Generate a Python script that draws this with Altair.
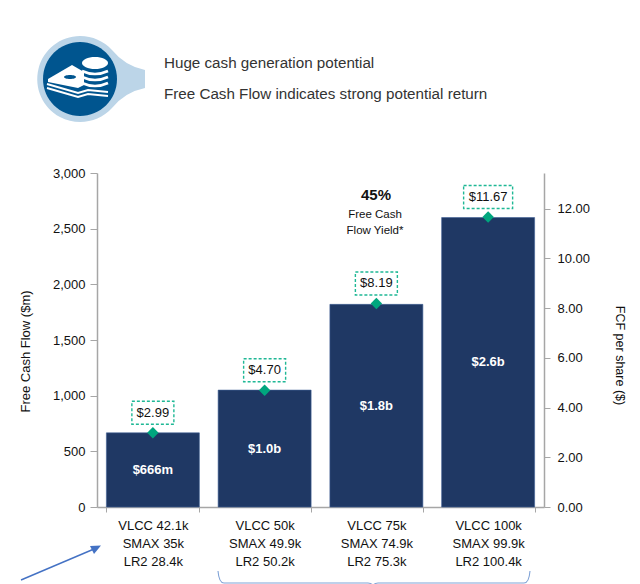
import altair as alt
import pandas as pd

FONT = "Liberation Sans"
categories = ["VLCC 42.1k|SMAX 35k|LR2 28.4k", "VLCC 50k|SMAX 49.9k|LR2 50.2k",
              "VLCC 75k|SMAX 74.9k|LR2 75.3k", "VLCC 100k|SMAX 99.9k|LR2 100.4k"]
fcf = [666, 1050, 1820, 2600]
per_share = [2.99, 4.70, 8.19, 11.67]
bar_labels = ["$666m", "$1.0b", "$1.8b", "$2.6b"]
share_labels = ["$2.99", "$4.70", "$8.19", "$11.67"]
box_wide = [False, False, False, True]
left_ticks = [0, 500, 1000, 1500, 2000, 2500, 3000]
right_ticks = [0, 2, 4, 6, 8, 10, 12]

df = pd.DataFrame({"cat": categories, "fcf": fcf, "mid": [v / 2 for v in fcf], "share": per_share,
                   "bar_label": bar_labels, "share_label": share_labels, "wide": box_wide})

W, H = 447, 334
GREY = "#a6a6a6"
TEAL = "#1fb895"
left_y = alt.Scale(domain=[0, 3000], nice=False)
right_y = alt.Scale(domain=[0, 13.44], nice=False)
x_enc = alt.X("cat:N", sort=categories, title=None,
              scale=alt.Scale(paddingInner=0.168, paddingOuter=0.084),
              axis=alt.Axis(labelExpr="split(datum.label,'|')", labelAngle=0, labelFont=FONT, labelFontSize=13,
                            labelColor="#111111", labelLineHeight=18, labelPadding=7, labelBaseline="top",
                            tickBand="extent", tickSize=5, tickColor=GREY, domainColor=GREY, domainWidth=1.5, grid=False))
base = alt.Chart(df).encode(x=x_enc)

bars = base.mark_bar(color="#1f3864", stroke="#3f5f95", strokeWidth=0.6).encode(
    y=alt.Y("fcf:Q", scale=left_y, axis=alt.Axis(
        values=left_ticks, format=",.0f", grid=False, tickSize=7, tickColor=GREY, domainColor=GREY, domainWidth=1.5,
        labelFont=FONT, labelFontSize=13, labelColor="#111111", labelPadding=5,
        title="Free Cash Flow ($m)", titleFont=FONT, titleFontSize=13, titleFontWeight="normal", titleColor="#111111",
        titleX=-65, titleY=178)))
bar_text = base.mark_text(color="white", font=FONT, fontSize=13, fontWeight="bold").encode(
    y=alt.Y("mid:Q", scale=left_y, axis=None), text="bar_label:N")
diamonds = base.mark_point(shape="diamond", filled=True, size=130, color="#00a67e", opacity=1).encode(
    y=alt.Y("share:Q", scale=right_y, axis=alt.Axis(
        orient="right", values=right_ticks, format=".2f", grid=False, tickSize=6, tickColor=GREY, domainColor=GREY,
        domainWidth=1.5, labelFont=FONT, labelFontSize=13, labelColor="#111111", labelPadding=7,
        title="FCF per share ($)", titleFont=FONT, titleFontSize=12.5, titleFontWeight="normal", titleColor="#111111",
        titleX=68, titleY=182)))
box_style = dict(height=23, yOffset=-20, fill="white", stroke=TEAL, strokeDash=[3, 2], strokeWidth=1.4)
box_narrow = base.transform_filter("!datum.wide").mark_rect(width=42, **box_style).encode(
    y=alt.Y("share:Q", scale=right_y, axis=None))
box_big = base.transform_filter("datum.wide").mark_rect(width=49, **box_style).encode(
    y=alt.Y("share:Q", scale=right_y, axis=None))
box_text = base.mark_text(font=FONT, fontSize=13, color="#111111", yOffset=-20).encode(
    y=alt.Y("share:Q", scale=right_y, axis=None), text="share_label:N")


def note(text, px, py, size=14, weight="normal", color="#111111"):
    return alt.Chart(pd.DataFrame({"t": [text]})).mark_text(
        font=FONT, fontSize=size, fontWeight=weight, color=color, align="center").encode(
        x=alt.value(px - 97), y=alt.value(py - 173), text="t:N")


def header(text, py):
    return alt.Chart(pd.DataFrame({"t": [text]})).mark_text(
        font=FONT, fontSize=15.2, color="#333333", align="left").encode(
        x=alt.value(164 - 97), y=alt.value(py - 173), text="t:N")


def shape(path, fill=None, stroke=None, sw=1.0):
    """Custom symbol, with its path written in page pixels; size 4 means a scale of one."""
    kw = dict(shape=path, size=4, opacity=1)
    if fill:
        kw.update(filled=True, fill=fill, stroke=stroke or fill, strokeWidth=sw if stroke else 0)
    else:
        kw.update(filled=False, stroke=stroke, strokeWidth=sw, fill="transparent")
    return alt.Chart(pd.DataFrame({"a": [0]})).mark_point(**kw).encode(x=alt.value(-97), y=alt.value(-173))


icon = [
    shape("M80 36 A43 43 0 0 1 112 50 Q125 66 145 70 L145 88 Q125 92 112 108 A43 43 0 1 1 80 36 Z", fill="#bcd5e8"),
    shape("M80 42 A37 37 0 1 1 80 116 A37 37 0 1 1 80 42 Z", fill="#00558f"),
    shape("M48 79 L72 65 L84 72 L84 85 L78 88 L48 82 Z", fill="white"),
    shape("M64 77 A6 2 0 1 1 76 77 A6 2 0 1 1 64 77 Z", fill="#00558f"),
    shape("M47 84 L78 93 L88 90 L108 92", stroke="white", sw=2),
    shape("M47 88 L78 97 L88 94 L108 96", stroke="white", sw=2),
    shape("M82 63 A13 6 0 1 1 108 63 A13 6 0 1 1 82 63 Z", fill="white"),
    shape("M82 71 Q95 77 108 71", stroke="white", sw=2.6),
    shape("M82 77 Q95 83 108 77", stroke="white", sw=2.6),
    shape("M82 83 Q95 89 108 83", stroke="white", sw=2.6),
]
arrow = [
    shape("M21 580 L94 549", stroke="#4472c4", sw=1.4),
    shape("M101 545.5 L90 546 L94 554 Z", fill="#4472c4"),
]
bracket = [shape("M218 571 Q219 583 224 583 L368 583 Q372 583 373 586 Q374 583 378 583 L524 583 Q529 583 530 571",
                 stroke="#7ea1d6", sw=1.1)]

chart = alt.layer(
    *icon,
    header("Huge cash generation potential", 62.5),
    header("Free Cash Flow indicates strong potential return", 93.5),
    bars, bar_text, box_narrow, box_big, box_text, diamonds,
    note("45%", 376, 195, size=15, weight="bold"),
    note("Free Cash", 375, 215, size=11.5),
    note("Flow Yield*", 375, 231, size=11.5),
    *arrow, *bracket,
).resolve_scale(y="independent").properties(
    width=W, height=H,
    autosize=alt.AutoSizeParams(type="none"),
    padding={"left": 89, "top": 165, "right": 88, "bottom": 77},
    background="white",
).configure_view(stroke=None)

chart.save("out.html", embed_options={"renderer": "svg", "actions": False})
